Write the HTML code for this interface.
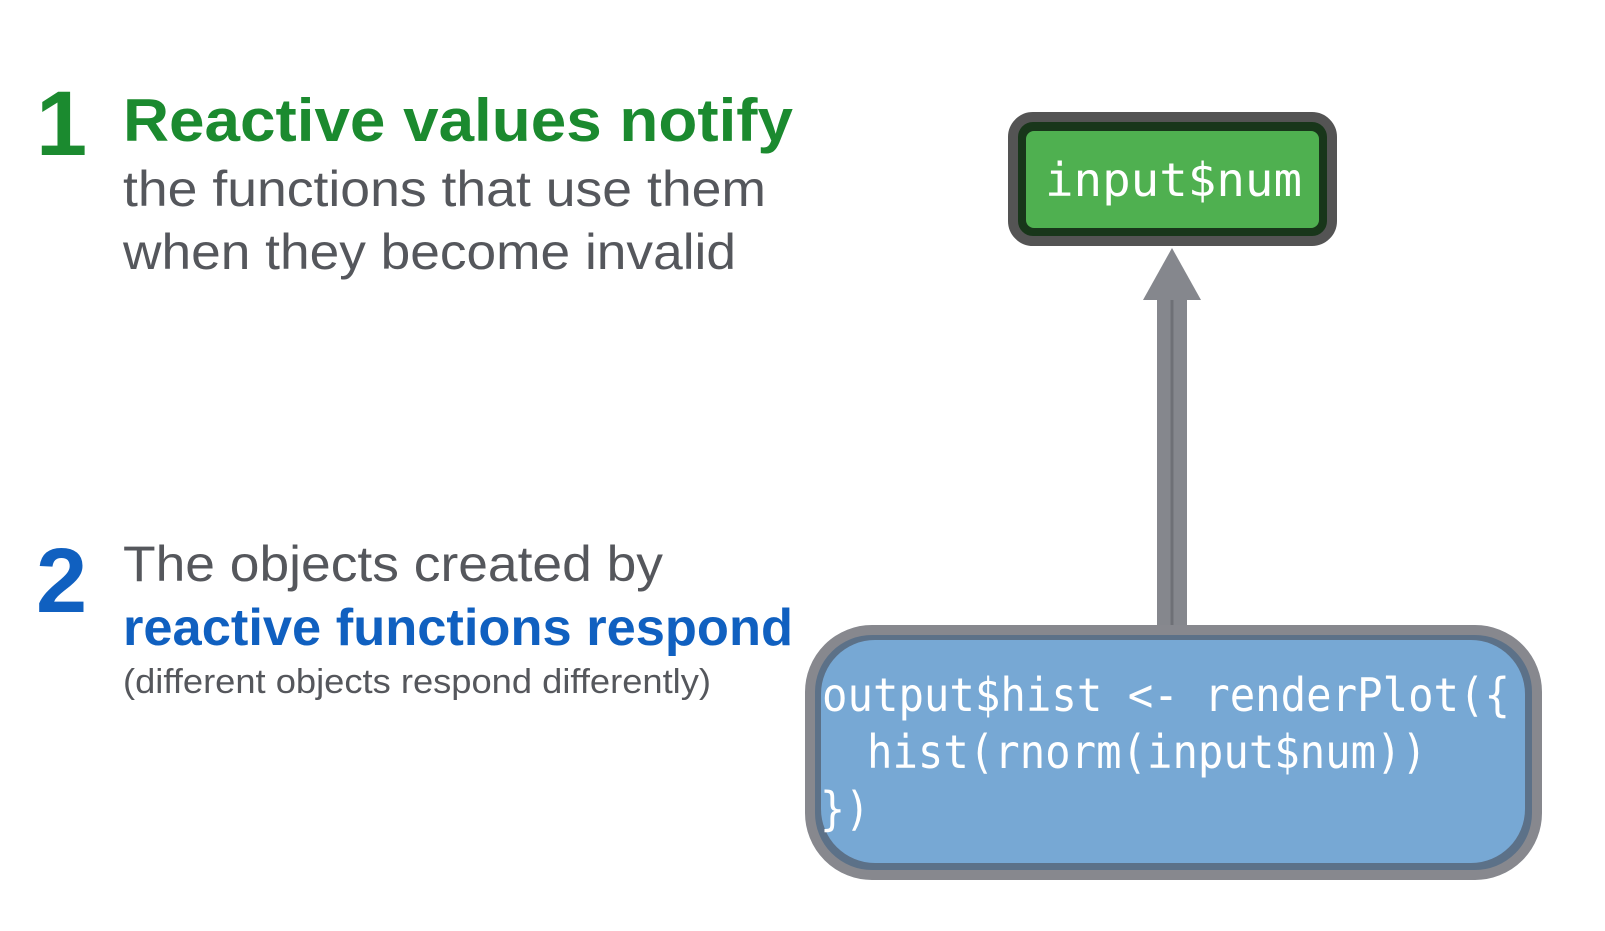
<!DOCTYPE html>
<html><head><meta charset="utf-8"><style>html,body{margin:0;padding:0;background:#fff}svg{display:block}</style></head>
<body>
<svg width="1605" height="931" viewBox="0 0 1605 931" xmlns="http://www.w3.org/2000/svg">
<g font-family="Liberation Sans, sans-serif">
<text x="36" y="155" font-size="92" font-weight="bold" fill="#1b8a2f">1</text>
<text x="123" y="141" font-size="60" font-weight="bold" fill="#1b8a2f" textLength="670" lengthAdjust="spacingAndGlyphs">Reactive values notify</text>
<text x="123" y="206" font-size="50" fill="#55575c" textLength="643" lengthAdjust="spacingAndGlyphs">the functions that use them</text>
<text x="123" y="269" font-size="50" fill="#55575c" textLength="613" lengthAdjust="spacingAndGlyphs">when they become invalid</text>
<text x="36" y="612" font-size="92" font-weight="bold" fill="#1060c0">2</text>
<text x="123" y="581" font-size="50" fill="#55575c" textLength="540" lengthAdjust="spacingAndGlyphs">The objects created by</text>
<text x="123" y="645" font-size="52" font-weight="bold" fill="#1060c0" textLength="670" lengthAdjust="spacingAndGlyphs">reactive functions respond</text>
<text x="123" y="693" font-size="34" fill="#55575c" textLength="588" lengthAdjust="spacingAndGlyphs">(different objects respond differently)</text>
</g>
<!-- arrow -->
<rect x="1157" y="296" width="30" height="336" fill="#85878d"/>
<line x1="1172" y1="255" x2="1172" y2="632" stroke="#6e7076" stroke-width="3"/>
<polygon points="1172,248 1201,300 1143,300" fill="#85878d"/>
<!-- green box -->
<rect x="1013" y="117" width="319" height="124" rx="20" fill="#18361a" stroke="#545454" stroke-width="10"/>
<rect x="1026" y="131" width="293" height="97" rx="8" fill="#4fb050"/>
<text x="1045" y="196" font-family="DejaVu Sans Mono, monospace" font-size="46" fill="#fff" textLength="257" lengthAdjust="spacingAndGlyphs">input$num</text>
<!-- blue box -->
<rect x="810" y="630" width="727" height="245" rx="62" fill="#5c7188" stroke="#87888e" stroke-width="10"/>
<rect x="821" y="640" width="704" height="223" rx="54" fill="#77a8d4"/>
<g font-family="DejaVu Sans Mono, monospace" font-size="46" fill="#fff">
<text x="822" y="711" textLength="688" lengthAdjust="spacingAndGlyphs">output$hist &lt;- renderPlot({</text>
<text x="867" y="768" textLength="560" lengthAdjust="spacingAndGlyphs">hist(rnorm(input$num))</text>
<text x="820" y="825" textLength="50" lengthAdjust="spacingAndGlyphs">})</text>
</g>
</svg>
</body></html>
